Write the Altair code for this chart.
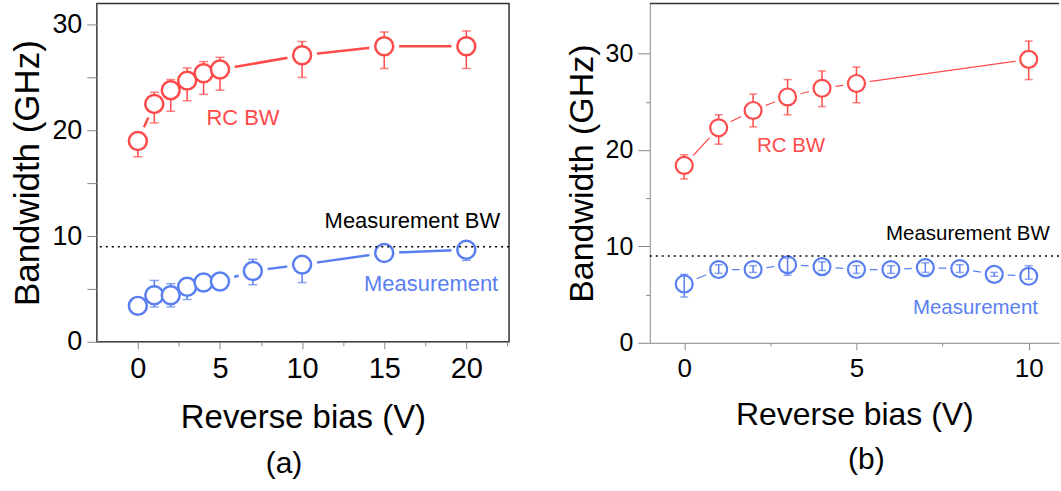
import altair as alt
import pandas as pd

FONT = "Liberation Sans"
RED = "#FF4A4A"
BLUE = "#5A7FF0"

# ---------- panel (a) data ----------
a_rc_x = [0, 1, 2, 3, 4, 5, 10, 15, 20]
a_rc_y = [19.0, 22.5, 23.8, 24.7, 25.4, 25.75, 27.1, 27.95, 27.95]
a_rc_lo = [17.5, 20.7, 21.8, 22.8, 23.4, 23.8, 25.0, 25.85, 25.85]
a_rc_hi = [19.8, 23.6, 24.8, 25.9, 26.5, 26.9, 28.4, 29.3, 29.4]

a_ms_x = [0, 1, 2, 3, 4, 5, 7, 10, 15, 20]
a_ms_y = [3.4, 4.4, 4.4, 5.2, 5.6, 5.7, 6.7, 7.3, 8.4, 8.7]
a_ms_lo = [2.9, 3.3, 3.3, 4.0, 5.0, 5.0, 5.4, 5.6, 8.0, 7.7]
a_ms_hi = [3.9, 5.8, 5.5, 6.0, 6.2, 6.0, 7.8, 8.0, 8.7, 9.4]

# ---------- panel (b) data ----------
b_rc_x = [0, 1, 2, 3, 4, 5, 10]
b_rc_y = [18.4, 22.3, 24.1, 25.5, 26.4, 26.9, 29.4]
b_rc_lo = [17.0, 20.6, 22.4, 23.65, 24.5, 24.9, 27.3]
b_rc_hi = [19.5, 23.65, 25.8, 27.3, 28.2, 28.6, 31.3]

b_ms_x = [0, 1, 2, 3, 4, 5, 6, 7, 8, 9, 10]
b_ms_y = [6.1, 7.6, 7.6, 8.1, 7.9, 7.6, 7.6, 7.8, 7.7, 7.1, 6.9]
b_ms_lo = [4.75, 7.2, 7.3, 7.0, 7.5, 7.2, 7.2, 7.3, 7.3, 6.9, 6.6]
b_ms_hi = [7.1, 8.1, 8.0, 8.8, 8.4, 8.0, 8.0, 8.3, 8.1, 7.3, 8.0]

meas_bw = 9.0

# annotations: text, x, y
a_notes_text = ["RC BW", "Measurement BW", "Measurement"]
a_notes_x = [6.4, 22.06, 21.94]
a_notes_y = [21.2, 11.45, 5.48]
a_notes_color = [RED, "black", BLUE]
a_notes_align = ["center", "right", "right"]

b_notes_text = ["RC BW", "Measurement BW", "Measurement"]
b_notes_x = [3.10, 10.61, 10.27]
b_notes_y = [20.4, 11.25, 3.65]
b_notes_color = [RED, "black", BLUE]
b_notes_align = ["center", "right", "right"]


def df(x, y, lo, hi):
    return pd.DataFrame({"x": x, "y": y, "lo": lo, "hi": hi})


def panel(series, notes, xdom, ydom, xvals, yvals, xmajor, width, height,
          lfs_x, lfs_y, tfs, ytick, xtick, note_fs, label_text, label_dx,
          line_w, mk_size, halo_size, mk_sw, cap, framed):
    xaxis = alt.Axis(values=xvals, labelExpr=f"datum.value % {xmajor} === 0 ? datum.label : ''",
                     title="Reverse bias (V)", titleFontSize=tfs, labelFontSize=lfs_x,
                     titleFontWeight="normal", titleFont=FONT, labelFont=FONT,
                     tickSize=xtick, labelPadding=6, titlePadding=18, grid=False)
    yaxis = alt.Axis(values=yvals, labelExpr="datum.value % 10 === 0 ? datum.label : ''",
                     title="Bandwidth (GHz)", titleFontSize=tfs + 2, labelFontSize=lfs_y,
                     titleFontWeight="normal", titleFont=FONT, labelFont=FONT,
                     tickSize=ytick, labelPadding=5, titlePadding=6, grid=False)

    def X(f):
        return alt.X(f, type="quantitative", scale=alt.Scale(domain=xdom, nice=False, zero=False), axis=xaxis)

    def Y(f):
        return alt.Y(f, type="quantitative", scale=alt.Scale(domain=ydom, nice=False, zero=False), axis=yaxis)

    layers = []
    for d, color, hollow in series:
        layers.append(alt.Chart(d).mark_line(color=color, strokeWidth=line_w).encode(x=X("x"), y=Y("y")))
    for d, color, hollow in series:
        layers.append(alt.Chart(d).mark_point(shape="circle", filled=True, color="white", opacity=1,
                                              size=halo_size).encode(x=X("x"), y=Y("y")))
    for d, color, hollow in series:
        layers.append(alt.Chart(d).mark_rule(color=color, strokeWidth=1.5).encode(x=X("x"), y=Y("lo"), y2="hi"))
        layers.append(alt.Chart(d).mark_tick(color=color, orient="horizontal", size=cap, thickness=1.5)
                      .encode(x=X("x"), y=Y("lo")))
        layers.append(alt.Chart(d).mark_tick(color=color, orient="horizontal", size=cap, thickness=1.5)
                      .encode(x=X("x"), y=Y("hi")))
    for d, color, hollow in series:
        kw = dict(shape="circle", filled=False, stroke=color, strokeWidth=mk_sw, size=mk_size, opacity=1)
        if not hollow:
            kw["fill"] = "white"
            kw["fillOpacity"] = 1
        layers.append(alt.Chart(d).mark_point(**kw).encode(x=X("x"), y=Y("y")))
    layers.append(alt.Chart(pd.DataFrame({"v": [meas_bw]})).mark_rule(
        color="black", strokeDash=[2, 4], strokeWidth=1.5).encode(y=Y("v")))
    for t, x, y, c, a in notes:
        layers.append(alt.Chart(pd.DataFrame({"x": [x], "y": [y], "t": [t]})).mark_text(
            font=FONT, fontSize=note_fs, color=c, align=a, baseline="middle").encode(
            x=X("x"), y=Y("y"), text="t:N"))
    if not framed:
        layers.append(alt.Chart(pd.DataFrame({"v": [ydom[1]]})).mark_rule(
            color="#333", strokeWidth=1.5).encode(y=Y("v")))
    view = alt.ViewBackground(stroke="#333" if framed else "transparent", strokeWidth=1.5)
    return alt.layer(*layers).properties(
        width=width, height=height, view=view,
        title=alt.TitleParams(label_text, orient="bottom", fontSize=30, font=FONT,
                              fontWeight="normal", dx=label_dx, offset=14, color="black"))


a_series = [(df(a_rc_x, a_rc_y, a_rc_lo, a_rc_hi), RED, False),
            (df(a_ms_x, a_ms_y, a_ms_lo, a_ms_hi), BLUE, False)]
b_series = [(df(b_rc_x, b_rc_y, b_rc_lo, b_rc_hi), RED, False),
            (df(b_ms_x, b_ms_y, b_ms_lo, b_ms_hi), BLUE, True)]

a_notes = list(zip(a_notes_text, a_notes_x, a_notes_y, a_notes_color, a_notes_align))
b_notes = list(zip(b_notes_text, b_notes_x, b_notes_y, b_notes_color, b_notes_align))

pa = panel(a_series, a_notes, [-2.5, 22.6], [0, 32],
           [0, 2.5, 5, 7.5, 10, 12.5, 15, 17.5, 20, 22.5], [0, 5, 10, 15, 20, 25, 30], 5,
           413, 339, 29, 27, 33, 10, {"condition": {"test": "datum.value % 5 === 0", "value": 7}, "value": 4},
           22, "(a)", -19, 2.5, 324, 900, 2.5, 9, True)
pb = panel(b_series, b_notes, [-1, 10.88], [0, 35.2],
           [0, 2.5, 5, 7.5, 10], [0, 5, 10, 15, 20, 25, 30], 5,
           410, 340, 26, 25, 32, {"condition": {"test": "datum.value % 10 === 0", "value": 12}, "value": 4},
           {"condition": {"test": "datum.value % 5 === 0", "value": 7}, "value": 3},
           20.5, "(b)", 12, 1.2, 289, 729, 2.2, 8, False)

chart = alt.hconcat(pa, pb, spacing=53).properties(
    padding={"left": 10, "top": 1, "right": 0, "bottom": 0}
).configure_axis(
    labelFont=FONT, titleFont=FONT, labelColor="black", titleColor="black",
    titleFontWeight="normal", domainColor="#333", domainWidth=1.5,
    tickColor="#333", tickWidth=1.5
).configure_view(stroke="transparent").configure(background="white")

chart.save("out.html", embed_options={"renderer": "svg", "actions": False})
